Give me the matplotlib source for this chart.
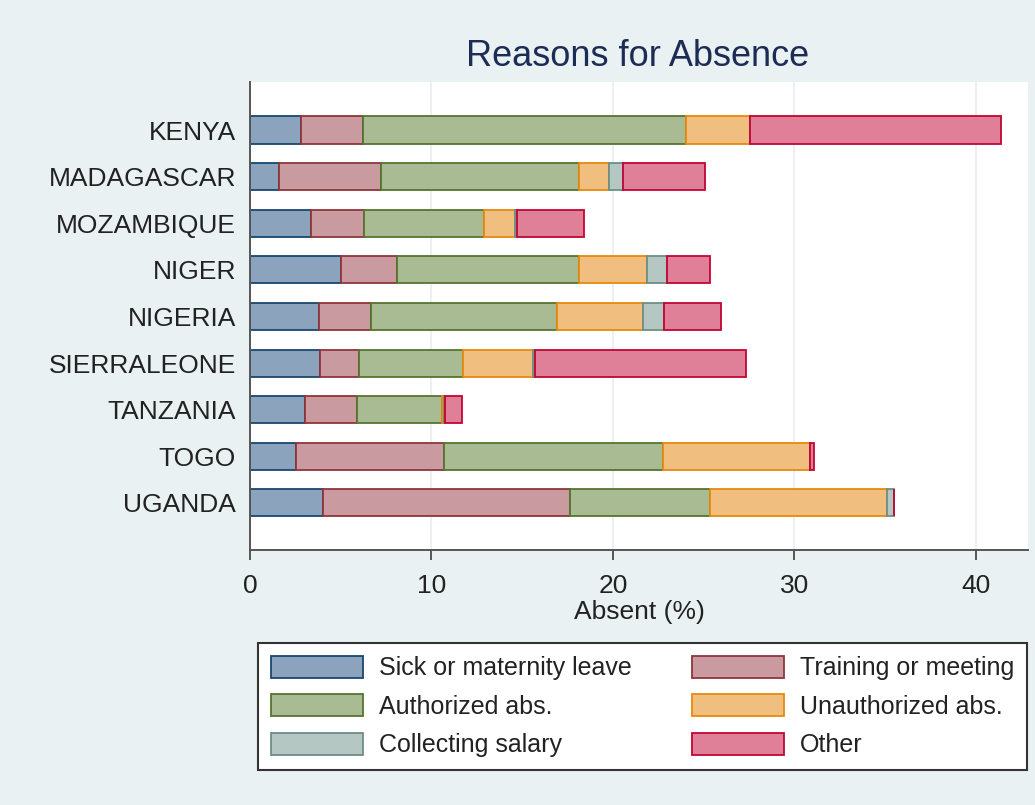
import matplotlib.pyplot as plt
import numpy as np

plt.rcParams["font.family"] = ["Liberation Sans", "DejaVu Sans"]

countries = ["KENYA", "MADAGASCAR", "MOZAMBIQUE", "NIGER", "NIGERIA",
             "SIERRALEONE", "TANZANIA", "TOGO", "UGANDA"]

sick = [2.8, 1.62, 3.36, 5.0, 3.82, 3.86, 3.03, 2.53, 4.04]
training = [3.4, 5.58, 2.92, 3.12, 2.83, 2.16, 2.88, 8.16, 13.59]
authorized = [17.8, 10.93, 6.62, 10.01, 10.25, 5.73, 4.65, 12.05, 7.71]
unauthorized = [3.55, 1.67, 1.7, 3.73, 4.77, 3.86, 0.14, 8.11, 9.74]
collecting = [0.0, 0.77, 0.1, 1.1, 1.14, 0.09, 0.04, 0.0, 0.42]
other = [13.85, 4.5, 3.7, 2.38, 3.14, 11.63, 0.95, 0.22, 0.0]

series = [
    ("Sick or maternity leave", sick, "#8ba3bd", "#1a476f"),
    ("Training or meeting", training, "#c99ba0", "#90353b"),
    ("Authorized abs.", authorized, "#a9bb93", "#55752f"),
    ("Unauthorized abs.", unauthorized, "#f0be7e", "#e8890c"),
    ("Collecting salary", collecting, "#b5c7c3", "#6e8e84"),
    ("Other", other, "#e07f98", "#c10534"),
]

bg = "#e9f1f3"
fig = plt.figure(figsize=(10.35, 8.05), dpi=100, facecolor=bg)
ax = fig.add_axes([250 / 1035, 1 - 550 / 805, 778 / 1035, 468 / 805])
ax.set_facecolor("white")

y = np.arange(len(countries))
left = np.zeros(len(countries))
handles = {}
for name, vals, fill, edge in series:
    vals = np.array(vals)
    bars = ax.barh(y, vals, left=left, height=0.58, color=fill,
                   edgecolor=edge, linewidth=1.3, label=name, zorder=2)
    handles[name] = bars
    left += vals

ax.set_xlim(0, 42.87)
ax.set_ylim(9.01, -1.03)
ax.set_xticks([0, 10, 20, 30, 40])
ax.set_yticks(y)
ax.set_yticklabels(countries)
ax.tick_params(axis="y", length=0, pad=10, labelsize=19, labelcolor="#222222")
ax.tick_params(axis="x", length=7, width=1.4, color="#555555", pad=10,
               labelsize=19, labelcolor="#222222")
for x in [10, 20, 30, 40]:
    ax.axvline(x, color="#e6eef1", linewidth=1.2, zorder=1)

for s in ["top", "right"]:
    ax.spines[s].set_visible(False)
for s in ["left", "bottom"]:
    ax.spines[s].set_color("#555555")
    ax.spines[s].set_linewidth(1.4)

ax.set_xlabel("Absent (%)", fontsize=19, color="#222222", labelpad=2)
fig.text(638 / 1035, 1 - 57 / 805, "Reasons for Absence", fontsize=26,
         color="#1c2c55", ha="center", va="center")

order = ["Sick or maternity leave", "Authorized abs.", "Collecting salary",
         "Training or meeting", "Unauthorized abs.", "Other"]
leg = ax.legend([handles[k] for k in order], order, ncol=2, loc="upper left",
                bbox_to_anchor=(258 / 1035, 1 - 770 / 805, 769 / 1035, 127 / 805),
                bbox_transform=fig.transFigure, mode="expand",
                borderaxespad=0, fontsize=18, handlelength=3.7,
                handleheight=1.0, handletextpad=0.65, labelspacing=0.55,
                borderpad=0.5, fancybox=False, framealpha=1)
leg.get_frame().set_edgecolor("#333333")
leg.get_frame().set_linewidth(1.5)
for t in leg.get_texts():
    t.set_color("#222222")

fig.savefig("out.png", dpi=100, facecolor=bg)
